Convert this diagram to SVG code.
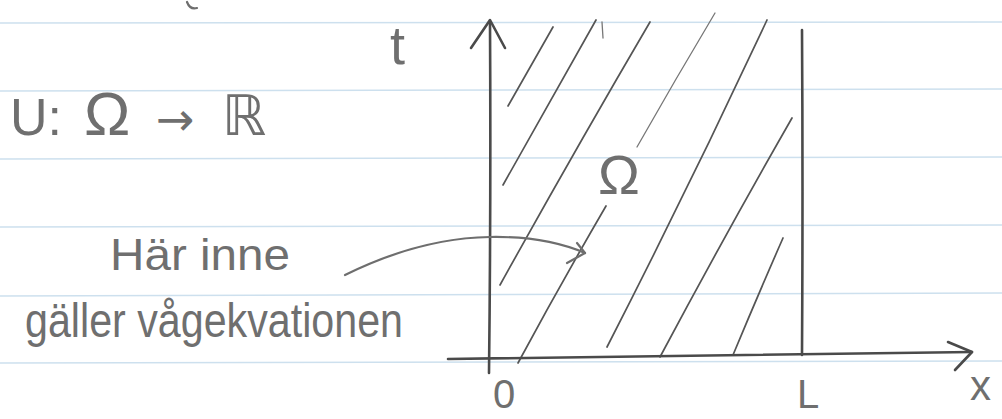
<svg xmlns="http://www.w3.org/2000/svg" width="1002" height="419" viewBox="0 0 1002 419">
<style>
.rule{stroke:#cde0ee;stroke-width:1.5}
.ax{stroke:#4a4a4a;stroke-width:2.6;fill:none;stroke-linecap:round;stroke-linejoin:round}
.h{stroke:#555;stroke-width:1.7;fill:none;stroke-linecap:round}
.hl{stroke:#777;stroke-width:1.3;fill:none;stroke-linecap:round}
.pen{stroke:#6e6e6e;stroke-width:2.2;fill:none;stroke-linecap:round;stroke-linejoin:round}
.tx{font-family:"Liberation Sans","DejaVu Sans",sans-serif;fill:#6f6f6f}
</style>
<rect width="1002" height="419" fill="#ffffff"/>
<g id="paper">
<line class="rule" x1="0" y1="23" x2="1002" y2="22"/>
<line class="rule" x1="0" y1="91" x2="1002" y2="89"/>
<line class="rule" x1="0" y1="159" x2="1002" y2="157"/>
<line class="rule" x1="0" y1="227" x2="1002" y2="225"/>
<line class="rule" x1="0" y1="296" x2="1002" y2="293"/>
<line class="rule" x1="0" y1="363" x2="1002" y2="361"/>
</g>
<g id="hatching">
<path class="h" d="M508 106 L553 27"/>
<path class="h" d="M503 185 Q548 105 596 20"/>
<path class="h" d="M500 285 Q575 150 650 22"/>
<path class="hl" d="M637 147 Q675 80 715 13"/>
<path class="h" d="M518 363 Q560 285 606 206"/>
<path class="h" d="M607 347 Q690 185 767 20"/>
<path class="h" d="M660 357 Q725 235 792 118"/>
<path class="h" d="M733 355 Q758 295 783 238"/>
<path class="hl" d="M602 22 L603 38"/>
</g>
<g id="axes">
<path class="ax" d="M489 373 Q491 200 490 22"/>
<path class="ax" d="M471 48 L490 20 L505 48"/>
<path class="ax" d="M448 359 Q700 356 972 352"/>
<path class="ax" d="M948 342 L972 352 L955 370"/>
<path class="ax" d="M802 30 Q803 190 802 355"/>
</g>
<g id="arrow">
<path class="pen" d="M345 275 Q420 238 490 237 Q545 236 585 253"/>
<path class="pen" d="M577 243 L585 253 L567 263"/>
</g>
<g id="labels">
<path class="pen" d="M187 2 Q190 10 197 8"/>
<text class="tx" x="390" y="64" font-size="54">t</text>
<text class="tx" y="135" font-size="52"><tspan x="10">U:</tspan><tspan x="84" font-size="62">Ω</tspan><tspan x="156" font-family="DejaVu Sans, sans-serif" font-size="46">→</tspan><tspan x="222" font-size="56">ℝ</tspan></text>
<text class="tx" x="598" y="194" font-size="56">Ω</text>
<text class="tx" x="110" y="270" font-size="44" textLength="180" lengthAdjust="spacingAndGlyphs">Här inne</text>
<text class="tx" x="25" y="337" font-size="48" textLength="378" lengthAdjust="spacingAndGlyphs">gäller vågekvationen</text>
<text class="tx" x="493" y="408" font-size="40">0</text>
<text class="tx" x="797" y="408" font-size="40">L</text>
<text class="tx" x="970" y="400" font-size="42">x</text>
</g>
</svg>
